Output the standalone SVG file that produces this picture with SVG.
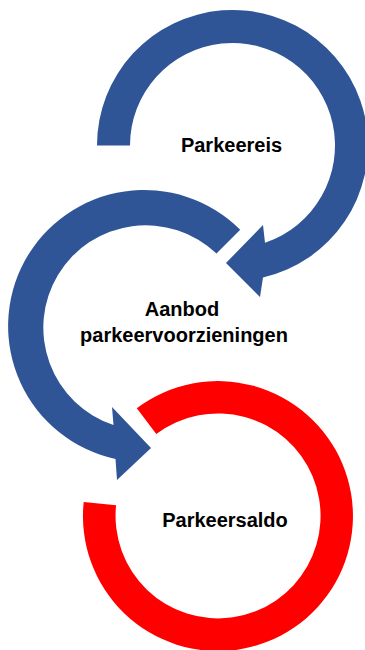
<svg xmlns="http://www.w3.org/2000/svg" width="365" height="650" viewBox="0 0 365 650">
  <style>
    .blue { fill: #2F5597; }
    .red { fill: #FF0000; }
    .label { font-family: "Liberation Sans", Arial, sans-serif; font-weight: bold; font-size: 20px; fill: #000000; text-anchor: middle; }
  </style>
  <rect width="365" height="650" fill="#FFFFFF"/>
  <g id="node-parkeereis">
    <path class="blue" d="M 97,145.5 A 135.5 135.5 0 1 1 263,277.5 L 260,297 L 226,263 L 263,225 L 265,242.7 A 102.5 102.5 0 1 0 130,145.5 Z"/>
    <text class="label" x="231.5" y="152">Parkeereis</text>
  </g>
  <g id="node-aanbod">
    <path class="blue" d="M 240.2,229.8 A 136 136 0 1 0 115.5,459 L 117,480 L 151,448 L 112,407 L 113.5,425 A 102.5 102.5 0 1 1 216.5,253.5 Z"/>
    <text class="label" x="182" y="316">Aanbod</text>
    <text class="label" x="184" y="342">parkeervoorzieningen</text>
  </g>
  <g id="node-parkeersaldo">
    <path class="red" d="M 136.8,408.2 A 135 135 0 1 1 83.7,501.9 L 116.1,505.3 A 102.5 102.5 0 1 0 156.3,434.1 Z"/>
    <text class="label" x="225" y="527">Parkeersaldo</text>
  </g>
  <g id="connectors"></g>
</svg>
